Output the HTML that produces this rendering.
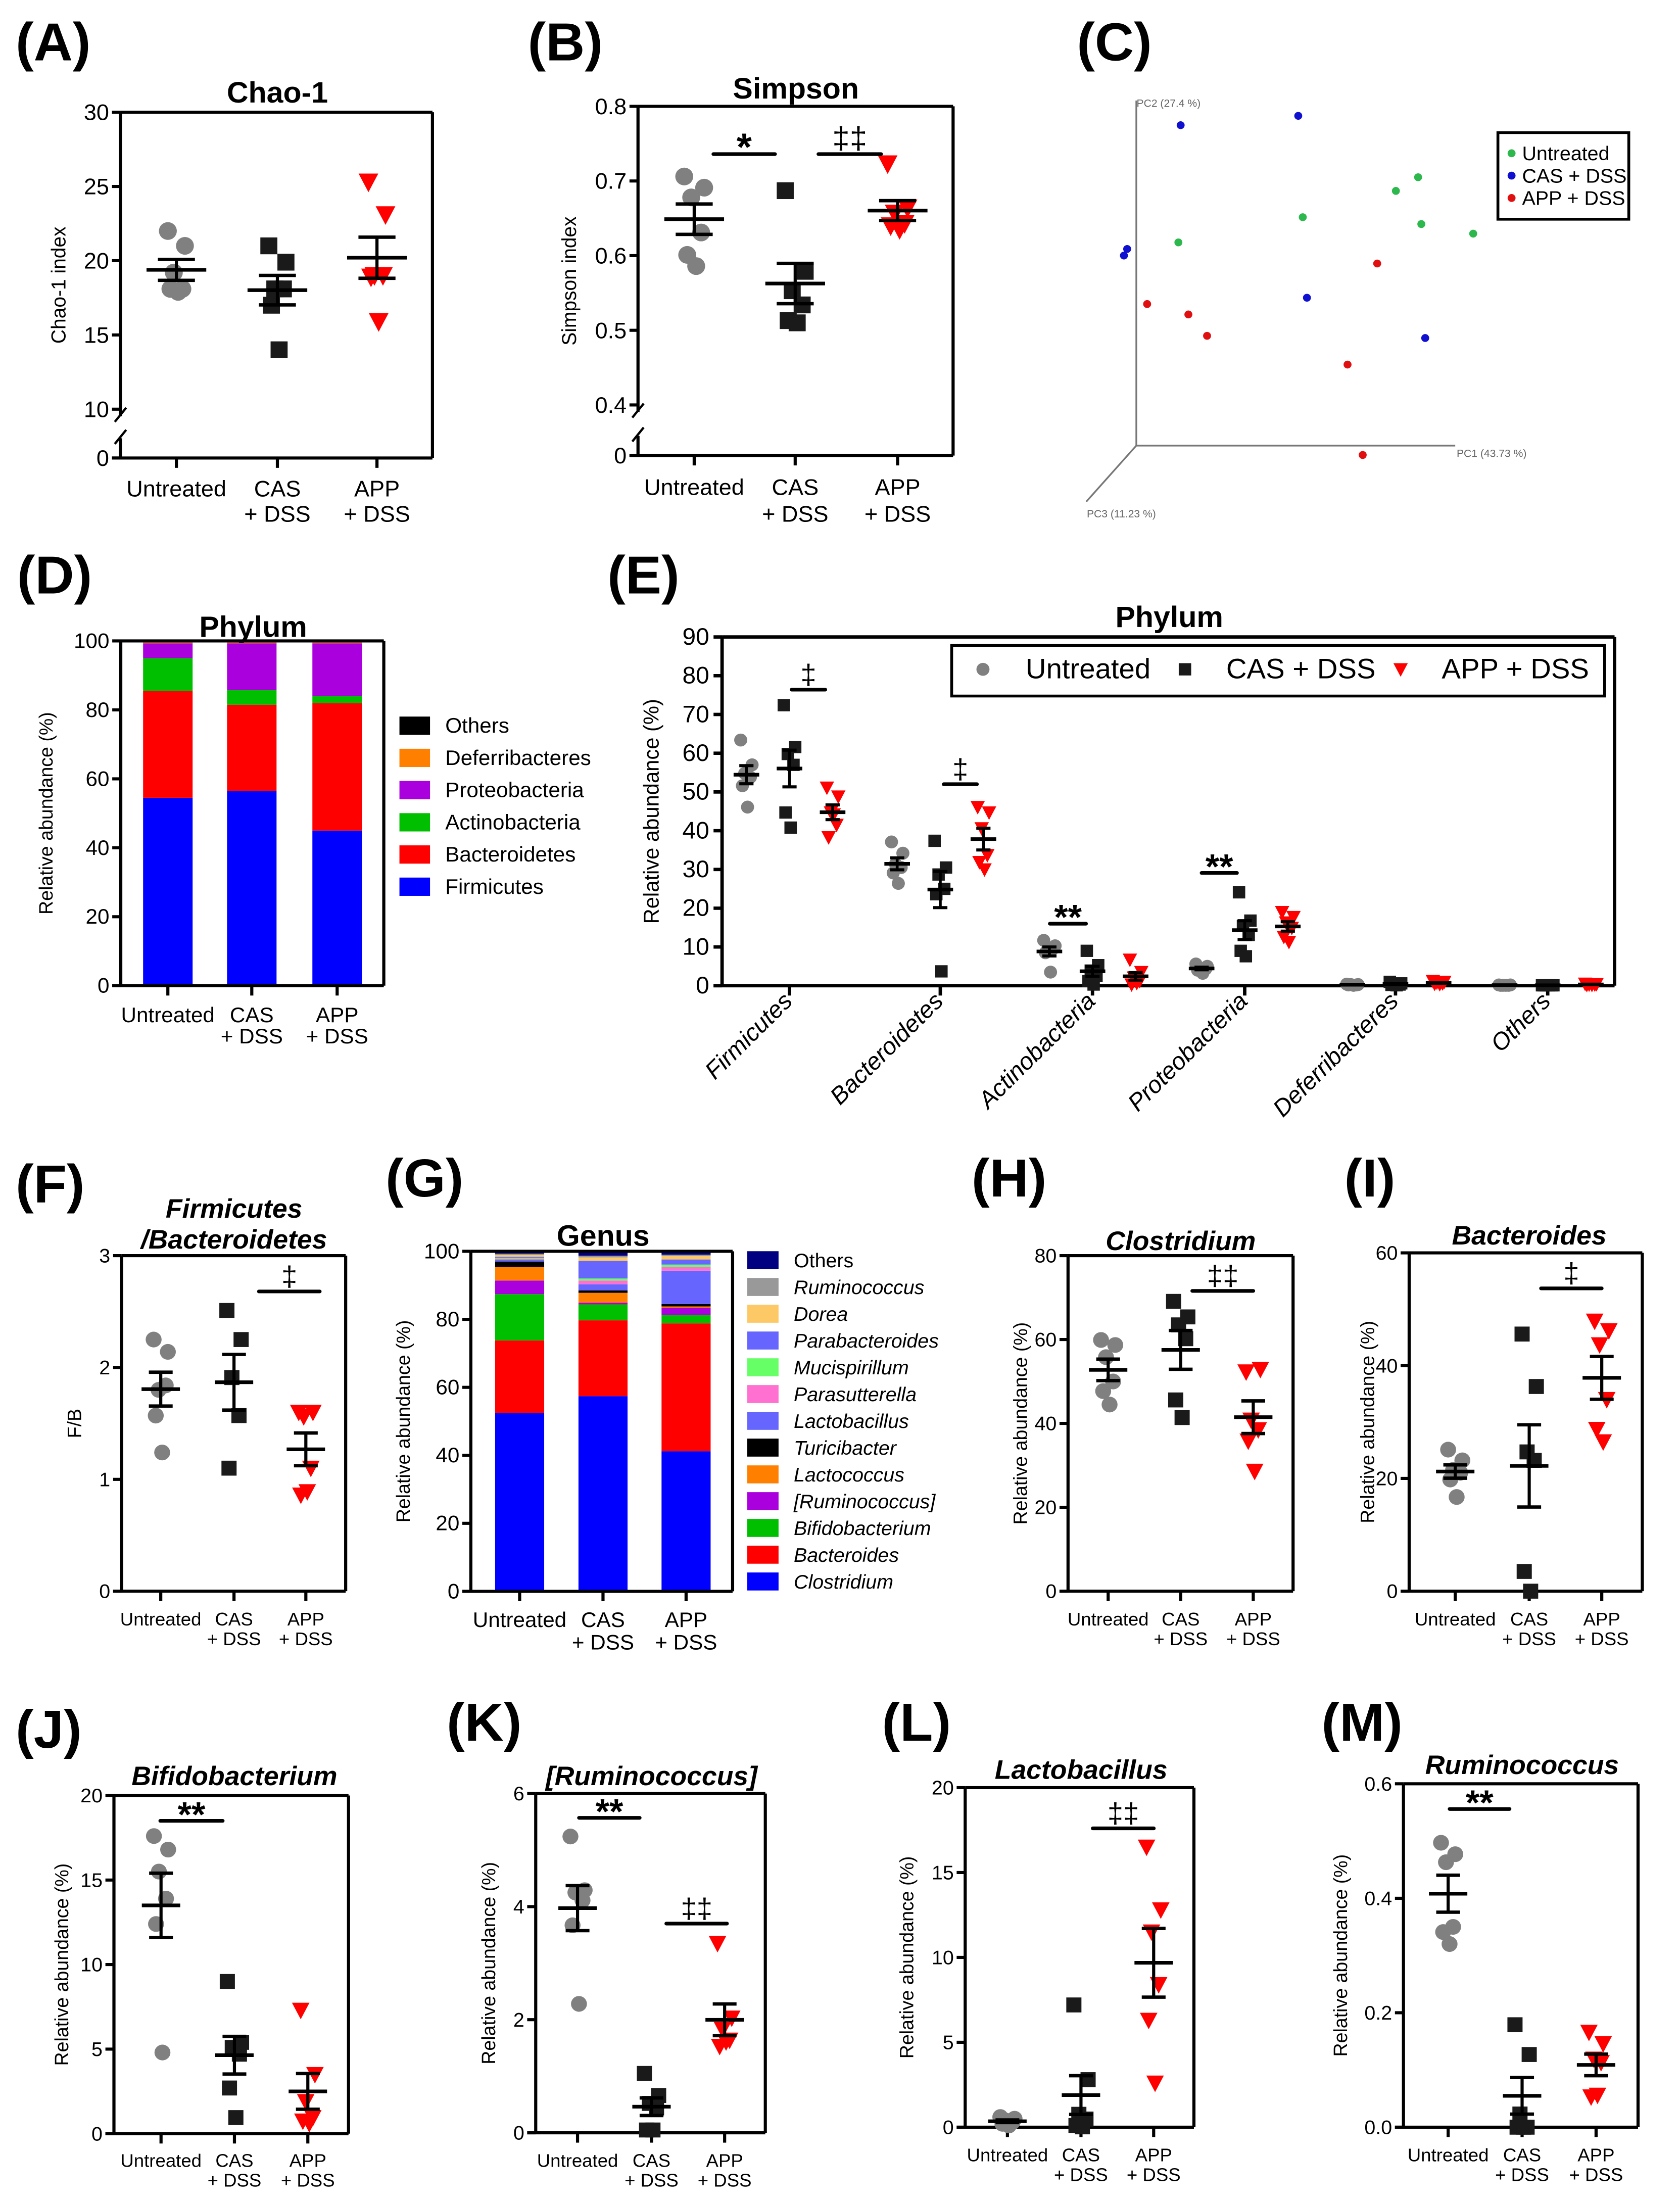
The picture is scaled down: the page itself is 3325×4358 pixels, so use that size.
<!DOCTYPE html>
<html><head><meta charset="utf-8"><style>
html,body{margin:0;padding:0;background:#fff;}
svg{display:block;}
</style></head><body>
<svg id="fig" xmlns="http://www.w3.org/2000/svg" width="3325" height="4358" viewBox="0 0 1181 1566" preserveAspectRatio="none">
<rect x="0" y="0" width="1181" height="1566" fill="#fff"/>
</svg>
<script>
// ===== DATA =====
const groupLabels=['Untreated','CAS\n+ DSS','APP\n+ DSS'];
const chao1Values=[[22,21,19.2,18.1,18.1,17.9],[21,19.9,18.1,18.1,17,14],[25.3,23.1,19,19,18.9,15.9]];
const simpsonValues=[[0.706,0.691,0.678,0.631,0.601,0.586],[0.687,0.579,0.553,0.534,0.513,0.51],[0.723,0.664,0.657,0.643,0.64,0.635]];
const fbValues=[[2.25,2.14,1.80,1.84,1.57,1.24],[2.51,2.25,1.91,1.57,1.10],[1.60,1.60,1.56,1.10,0.86,0.89]];
const clostridiumValues=[[59.9,58.7,55.8,50,47.7,44.5],[69.1,65.4,63.5,60.2,45.6,41.4],[52.3,52.9,40.8,38.5,35.8,28.6]];
const bacteroidesValues=[[25.1,23.2,21.5,21,19.8,16.7],[45.6,36.3,24.7,23.2,3.5,0],[47.9,46.2,43.7,34,28.7,26.5]];
const bifidoValues=[[17.6,16.8,15.5,13.9,12.4,4.8],[9,5.4,5.1,4.7,2.7,0.95],[7.3,3.5,1.9,0.95,0.75,0.6]];
const rumBracketValues=[[5.24,4.29,4.25,4.11,3.67,2.28],[1.05,0.66,0.52,0.44,0.05,0.05],[3.35,2.03,1.83,1.64,1.53,1.61]];
const lactobacillusValues=[[0.6,0.5,0.4,0.3,0.2,0.1],[7.2,2.8,0.76,0.48,0.1,0.02],[16.5,12.8,11.5,8.4,6.3,2.6]];
const ruminococcusValues=[[0.497,0.477,0.463,0.35,0.341,0.32],[0.179,0.127,0.023,0,0,0],[0.166,0.146,0.119,0.113,0.053,0.056]];

const phylumCats=['Firmicutes','Bacteroidetes','Actinobacteria','Proteobacteria','Deferribacteres','Others'];
const phylumUntreated=[[63.4,57,54.8,53.8,51.6,46.1],[37.1,34.2,31.4,30.5,29.1,26.4],[11.7,10.3,9.4,9.6,8.5,3.5],[5.6,5.0,4.6,4.3,4.0,3.2],[0.4,0.3,0.3,0.2,0.2,0.1],[0.2,0.2,0.1,0.1,0.1,0.1]];
const phylumCAS=[[72.4,61.6,59.8,57,44.7,40.8],[37.4,30.5,28.7,25,23.6,3.7],[9.0,5.3,3.9,2.6,1.2,0.3],[24.1,16.8,15.4,13.1,9,7.6],[1.0,0.6,0.4,0.3,0.2,0.1],[0.1,0.1,0.1,0.1,0.1,0.1]];
const phylumAPP=[[51.1,48.8,44.7,41.5,38.3,44.2],[46.1,44.7,40.6,33.7,31.9,30.0],[6.7,3.5,2.1,1.2,0.3,0.7],[19,17.7,16.3,14.9,12.6,11.3],[1.2,1.0,0.8,0.6,0.5,0.4],[0.5,0.4,0.3,0.3,0.2,0.2]];

const phylumStackNames=['Firmicutes','Bacteroidetes','Actinobacteria','Proteobacteria','Deferribacteres','Others'];
const phylumStackColors=['#0000ff','#ff0000','#00bf00','#aa00dd','#ff8000','#000000'];
const phylumStackUntreated=[54.5,31,9.5,4.3,0.7,0];
const phylumStackCAS=[56.5,25,4.2,13.6,0.7,0];
const phylumStackAPP=[45,37,2,15.3,0.7,0];

const genusNames=['Clostridium','Bacteroides','Bifidobacterium','[Ruminococcus]','Lactococcus','Turicibacter','Lactobacillus','Parasutterella','Mucispirillum','Parabacteroides','Dorea','Ruminococcus','Others'];
const genusColors=['#0000ff','#ff0000','#00bf00','#aa00dd','#ff8000','#000000','#6666ff','#ff70d0','#66ff66','#6666ff','#fdc966','#999999','#000080'];
const genusUntreated=[52.5,21.3,13.6,4.0,4.0,1.6,0.5,0.3,0.3,0.3,0.5,0.4,0.7];
const genusCAS=[57.4,22.3,4.7,0.5,2.9,0.7,1.8,1.1,0.6,5.2,1.0,0.5,1.3];
const genusAPP=[41.2,37.6,2.5,2.1,0.4,0.7,9.8,1.1,0.7,1.5,1.0,0.4,1.0];

const pcaUntreatedPC1=[286,672,961,1030,1040,1201];
const pcaUntreatedPC2=[553,461,365,315,486,521];
const pcaCASPC1=[293,658,127,117,685,1052];
const pcaCASPC2=[125,91,577,601,755,902];
const pcaAPPPC1=[189,317,375,903,811,858];
const pcaAPPPC2=[778,816,894,630,999,1329];

// ===== HELPERS =====
const NS='http://www.w3.org/2000/svg';
const svg=document.getElementById('fig');
const FN='"Liberation Sans Narrow","Liberation Sans",sans-serif';
const FR='"Liberation Sans",sans-serif';
const GREY='#808080', BLK='#1a1a1a', RED='#ff0000';
function mk(tag,attrs,parent){const e=document.createElementNS(NS,tag);for(const k in attrs)e.setAttribute(k,attrs[k]);(parent||svg).appendChild(e);return e;}
function txt(s,x,y,size,parent,extra){const a={x:x,y:y,'font-size':size,'font-family':FN,fill:'#000'};if(extra)for(const k in extra)a[k]=extra[k];const t=mk('text',a,parent);t.textContent=s;return t;}
function grp(name){const g=mk('g',{});return g;}
function line(x1,y1,x2,y2,w,parent,col){return mk('line',{x1:x1,y1:y1,x2:x2,y2:y2,stroke:col||'#000','stroke-width':w},parent);}
function marker(type,x,y,s,parent){
  let e;
  if(type===0) e=mk('circle',{cx:x,cy:y,r:s,fill:GREY},parent);
  else if(type===1) e=mk('rect',{x:x-s*0.95,y:y-s*0.95,width:s*1.9,height:s*1.9,fill:BLK},parent);
  else e=mk('polygon',{points:(x-s*1.1)+','+(y-s*0.95)+' '+(x+s*1.1)+','+(y-s*0.95)+' '+x+','+(y+s*1.15),fill:RED},parent);
  return e;
}
function meanSem(a){const n=a.length;const m=a.reduce((p,c)=>p+c,0)/n;const sd=Math.sqrt(a.reduce((p,c)=>p+(c-m)*(c-m),0)/(n-1));return [m,sd/Math.sqrt(n)];}
const JIT=[-1,1,-0.3,0.7,-0.7,0.2];
function letter(s,x,y){const t=txt(s,x,y,38,svg,{'font-weight':'bold','font-family':FR});}
function ylabel(s,x,yc,size,parent){const t=txt(s,x,yc,size,parent,{'text-anchor':'middle','font-family':FR,transform:'rotate(-90 '+x+' '+yc+')'});}
function xlabels(gx,y1,y2,size,parent){
  gx.forEach((x,i)=>{const parts=groupLabels[i].split('\n');
    parts.forEach((p,j)=>{const t=txt(p,x,j===0?y1:y2,size,parent,{'text-anchor':'middle'});});});
}
function sigBar(x1,x2,y,sym,parent,size){
  const l=line(x1,y,x2,y,2.6,parent);l.setAttribute('stroke-linecap','round');
  
  
  const star=sym.indexOf('*')>=0;
  const t=txt(sym,(x1+x2)/2,star?y+size*0.2:y-4,star?size*1.25:size,parent,{'text-anchor':'middle','font-family':FR,'font-weight':star?'bold':'normal'});
  
  
}

// ===== SCATTER PANEL =====
function scatterPanel(c){
  const g=grp(c.name);
  const Y=v=>{ if(c.brk){ if(v<=0) return c.bot; return c.brkPix-(v-c.ymin)/(c.ymax-c.ymin)*(c.brkPix-c.top);} return c.bot-(v-c.ymin)/(c.ymax-c.ymin)*(c.bot-c.top);};
  const X=(i)=>c.gx[0]+i*(c.gx[1]-c.gx[0]);
  const sw=2.2;
  if(c.brk){
    line(c.ax,c.top,c.ax,c.brkPix+5,sw,g);
    line(c.ax,c.bot-14,c.ax,c.bot,sw,g);
    line(c.ax-4,c.brkPix+9,c.ax+4,c.brkPix-1,1.6,g);
    line(c.ax-4,c.bot-10,c.ax+4,c.bot-20,1.6,g);
  } else line(c.ax,c.top,c.ax,c.bot,sw,g);
  line(c.ax,c.top,c.right,c.top,sw,g);
  line(c.right,c.top,c.right,c.bot,sw,g);
  const xa=line(c.ax-6,c.bot,c.right,c.bot,sw,g);
  
  
  c.ticks.forEach((t,i)=>{const y=Y(t);line(c.ax-6,y,c.ax,y,sw,g);
    const tl=txt(c.tickLabels[i],c.ax-8,y+c.fs*0.35,c.fs,g,{'text-anchor':'end'});
    
    });
  c.gx.forEach(x=>line(x,c.bot,x,c.bot+7,sw,g));
  xlabels(c.gx,c.xl1,c.xl2,c.xfs,g);
  c.data.forEach((arr,i)=>{
    arr.forEach((v,j)=>{const m=marker(i,c.gx[i]+JIT[j]*c.js,Y(v),c.ms,g);
      
      });
  });
  c.data.forEach((arr,i)=>{
    const [m,se]=meanSem(arr);const x=c.gx[i];
    const ml=line(x-c.mw,Y(m),x+c.mw,Y(m),2.6,g);
    
    
    line(x,Y(m+se),x,Y(m-se),2.2,g);
    line(x-c.mw*0.62,Y(m+se),x+c.mw*0.62,Y(m+se),2.4,g);
    line(x-c.mw*0.62,Y(m-se),x+c.mw*0.62,Y(m-se),2.4,g);
  });
  (c.sig||[]).forEach(s=>sigBar(X(s[0]),X(s[1]),Y(s[2]),s[3],g,c.sigfs||20));
  const tt=txt(c.title,c.tx,c.ty,c.tfs,g,{'text-anchor':'middle','font-weight':'bold','font-style':c.italic?'italic':'normal','font-family':FR});
  
  
  if(c.title2){const t2=txt(c.title2,c.tx,c.ty2,c.tfs,g,{'text-anchor':'middle','font-weight':'bold','font-style':'italic','font-family':FR});}
  ylabel(c.ylab,c.ylx,(c.top+c.bot)/2,c.yfs,g);
}

// ===== PANELS A/B =====
letter('(A)',11,43);letter('(B)',371,43);letter('(C)',757,43);
scatterPanel({name:'chao1-panel',ax:84.7,right:304,top:79.8,bot:325.7,brk:true,brkPix:291,ymin:10,ymax:30,
  ticks:[0,10,15,20,25,30],tickLabels:['0','10','15','20','25','30'],gx:[124,195,265],data:chao1Values,
  ms:6.3,js:6,mw:21,fs:16,xfs:16,xl1:353,xl2:371,title:'Chao-1',tx:195,ty:73,tfs:21,ylab:'Chao-1 index',ylx:46,yfs:14});
scatterPanel({name:'simpson-panel',ax:448.5,right:670,top:75.6,bot:324,brk:true,brkPix:288,ymin:0.4,ymax:0.8,
  ticks:[0,0.4,0.5,0.6,0.7,0.8],tickLabels:['0','0.4','0.5','0.6','0.7','0.8'],gx:[488,559,631],data:simpsonValues,
  ms:6.3,js:7,mw:21,fs:16,xfs:16,xl1:352,xl2:371,title:'Simpson',tx:559.5,ty:70,tfs:21,ylab:'Simpson index',ylx:405,yfs:14,
  sig:[[0.19,0.8,0.736,'*'],[1.23,1.85,0.736,'‡‡']],sigfs:22});

// ===== PANEL C (PCA) =====
(function(){
  const g=grp('pca-plot');
  const PX=v=>763.6+0.2265*v, PY=v=>64.67+0.1948*v;
  line(798.8,71.5,798.8,316.9,1.2,g,'#777');
  line(798.8,316.9,1023,316.9,1.2,g,'#777');
  line(798.8,316.9,763.6,356.8,1.2,g,'#777');
  const l1=txt('PC2 (27.4 %)',799,76,7.5,g,{fill:'#666','font-family':FR});
  const l2=txt('PC1 (43.73 %)',1024,325,7.5,g,{fill:'#666','font-family':FR});
  const l3=txt('PC3 (11.23 %)',764,368,7.5,g,{fill:'#666','font-family':FR});
  const sets=[[pcaUntreatedPC1,pcaUntreatedPC2,'#2db84d'],[pcaCASPC1,pcaCASPC2,'#1010d0'],[pcaAPPPC1,pcaAPPPC2,'#e01010']];
  sets.forEach((s,k)=>s[0].forEach((v,i)=>{const d=mk('circle',{cx:PX(v),cy:PY(s[1][i]),r:2.8,fill:s[2]},g);
    
    }));
  const lg=grp('pca-legend');
  mk('rect',{x:1053,y:94.3,width:92,height:61.6,fill:'#fff',stroke:'#000','stroke-width':2},lg);
  ['Untreated','CAS + DSS','APP + DSS'].forEach((n,i)=>{const y=109+i*15.9;
    mk('circle',{cx:1062.6,cy:y,r:2.8,fill:sets[i][2]},lg);
    const t=txt(n,1070,y+5,14,lg);});
})();

// ===== STACKED BAR PANELS =====
function stackPanel(c){
  const g=grp(c.name);
  const Y=v=>c.bot-v/100*(c.bot-c.top);
  const sw=2.2;
  c.series.forEach((vals,i)=>{let acc=0;vals.forEach((v,k)=>{const y0=Y(acc),y1=Y(acc+v);acc+=v;
    if(v<=0)return;
    const r=mk('rect',{x:c.bx[i]-c.bw/2,y:y1,width:c.bw,height:y0-y1,fill:c.colors[k]},g);
    
    });});
  line(c.ax,c.top,c.ax,c.bot,sw,g);line(c.ax,c.top,c.right,c.top,sw,g);line(c.right,c.top,c.right,c.bot,sw,g);
  line(c.ax-6,c.bot,c.right,c.bot,sw,g);
  [0,20,40,60,80,100].forEach(t=>{const y=Y(t);line(c.ax-6,y,c.ax,y,sw,g);
    const tl=txt(String(t),c.ax-8,y+5,15,g,{'text-anchor':'end'});});
  c.bx.forEach(x=>line(x,c.bot,x,c.bot+7,sw,g));
  xlabels(c.bx,c.xl1,c.xl2,15,g);
  const tt=txt(c.title,c.tx,c.ty,21,g,{'text-anchor':'middle','font-weight':'bold','font-family':FR});
  ylabel('Relative abundance (%)',c.ylx,(c.top+c.bot)/2,13.5,g);
  const lg=grp(c.name+'-legend');
  c.names.forEach((n,k)=>{const y=c.ly0-k*c.lstep;
    mk('rect',{x:c.lx,y:y-c.lh/2,width:c.lw,height:c.lh,fill:c.colors[k]},lg);
    const t=txt(n,c.ltx,y+5,c.lfs,lg,{'font-style':c.italic&&n!=='Others'?'italic':'normal'});
    
    });
}
letter('(D)',12,422);letter('(E)',427,422);
stackPanel({name:'phylum-stacked-bars',ax:84.9,right:269.8,top:455.8,bot:701,bx:[118,177,237],bw:34.8,
  series:[phylumStackUntreated,phylumStackCAS,phylumStackAPP],colors:phylumStackColors,names:phylumStackNames,
  xl1:727,xl2:742,title:'Phylum',tx:178,ty:453,ylx:37,lx:280.8,lw:21.5,lh:13,ly0:630.6,lstep:22.9,ltx:313,lfs:15});
letter('(F)',11,855);letter('(G)',271,851);letter('(H)',683,851);letter('(I)',945,851);
stackPanel({name:'genus-stacked-bars',ax:331,right:515,top:889.9,bot:1131.7,bx:[365.3,423.9,482.3],bw:34.5,
  series:[genusUntreated,genusCAS,genusAPP],colors:genusColors,names:genusNames,italic:true,
  xl1:1157,xl2:1173,title:'Genus',tx:424,ty:886,ylx:288,lx:525.3,lw:22,lh:12.8,ly0:1124.7,lstep:19.04,ltx:558,lfs:14});

// ===== PANEL E =====
(function(){
  const g=grp('phylum-scatter-panel');
  const ax=507.6,right=1135,top=453,bot=701;
  const Y=v=>bot-v/90*(bot-top);
  const catX=[555,661,768,875,981,1088];
  const gOff=30.3;
  const sw=2.4;
  line(ax,top,ax,bot,sw,g);line(ax,top,right,top,sw,g);line(right,top,right,bot,sw,g);line(ax-6,bot,right,bot,sw,g);
  for(let t=0;t<=90;t+=10){const y=Y(t);line(ax-6,y,ax,y,sw,g);
    const tl=txt(String(t),ax-9,y+5.5,17,g,{'text-anchor':'end'});}
  catX.forEach((x,i)=>{line(x,bot,x,bot+7,sw,g);
    const t=txt(phylumCats[i],x+3,bot+12,17,g,{'text-anchor':'end','font-style':'italic','font-family':FR,transform:'rotate(-45 '+(x+3)+' '+(bot+12)+')'});
    
    });
  const all=[phylumUntreated,phylumCAS,phylumAPP];
  all.forEach((grpData,gi)=>grpData.forEach((arr,ci)=>{const cx=catX[ci]+(gi-1)*gOff;
    arr.forEach((v,j)=>{const m=marker(gi,cx+JIT[j]*4,Y(v),4.6,g);
      
      });}));
  all.forEach((grpData,gi)=>grpData.forEach((arr,ci)=>{const cx=catX[ci]+(gi-1)*gOff;const [m,se]=meanSem(arr);
    const ml=line(cx-9,Y(m),cx+9,Y(m),2.6,g);
    
    
    line(cx,Y(m+se),cx,Y(m-se),2,g);line(cx-5,Y(m+se),cx+5,Y(m+se),2.2,g);line(cx-5,Y(m-se),cx+5,Y(m-se),2.2,g);}));
  const sigs=[[0,1.05,1.83,76.4,'‡'],[1,1.08,1.85,52,'‡'],[2,0.01,0.85,16,'**'],[3,0,0.82,29.1,'**']];
  sigs.forEach(s=>{const b=catX[s[0]]-gOff;sigBar(b+s[1]*gOff,b+s[2]*gOff,Y(s[3]),s[4],g,20);});
  const tt=txt('Phylum',822,446,21,g,{'text-anchor':'middle','font-weight':'bold','font-family':FR});
  ylabel('Relative abundance (%)',463,(top+bot)/2,15,g);
  const lg=grp('phylum-scatter-legend');
  mk('rect',{x:669,y:459,width:459,height:36,fill:'#fff',stroke:'#000','stroke-width':2},lg);
  const lx=[[691,721],[833,862],[984.6,1013.5]];
  ['Untreated','CAS + DSS','APP + DSS'].forEach((n,i)=>{marker(i,lx[i][0],476,4.6,lg);
    const t=txt(n,lx[i][1],482.5,20,lg);});
})();

// ===== SMALL PANELS F-M =====
const SM={ms:5.6,js:5,mw:13.5,fs:14,xfs:13};
function small(o){scatterPanel(Object.assign({},SM,o));}
small({name:'fb-ratio-panel',ax:85.5,right:243,top:893,bot:1131.6,ymin:0,ymax:3,ticks:[0,1,2,3],tickLabels:['0','1','2','3'],
  gx:[113,164.5,215],data:fbValues,xl1:1156,xl2:1170,title:'Firmicutes',title2:'/Bacteroidetes',italic:true,tx:164.5,ty:866,ty2:888,tfs:19,
  ylab:'F/B',ylx:57,yfs:13.5,sig:[[1.34,2.17,2.68,'‡']]});
small({name:'clostridium-panel',ax:750.8,right:909,top:893,bot:1131.6,ymin:0,ymax:80,ticks:[0,20,40,60,80],tickLabels:['0','20','40','60','80'],
  gx:[779,830,881],data:clostridiumValues,xl1:1156,xl2:1170,title:'Clostridium',italic:true,tx:830,ty:889,tfs:19,
  ylab:'Relative abundance (%)',ylx:722,yfs:13.5,sig:[[1.16,2.0,71.6,'‡‡']]});
small({name:'bacteroides-panel',ax:990.6,right:1154.5,top:891,bot:1131.6,ymin:0,ymax:60,ticks:[0,20,40,60],tickLabels:['0','20','40','60'],
  gx:[1023,1075,1126],data:bacteroidesValues,xl1:1156,xl2:1170,title:'Bacteroides',italic:true,tx:1075,ty:885,tfs:19,
  ylab:'Relative abundance (%)',ylx:966,yfs:13.5,sig:[[1.16,1.98,53.7,'‡']]});
letter('(J)',11,1243);letter('(K)',314,1238);letter('(L)',620,1238);letter('(M)',929,1238);
small({name:'bifidobacterium-panel',ax:80.1,right:245,top:1276.9,bot:1517.4,ymin:0,ymax:20,ticks:[0,5,10,15,20],tickLabels:['0','5','10','15','20'],
  gx:[113.2,164.8,216.4],data:bifidoValues,xl1:1541,xl2:1555,title:'Bifidobacterium',italic:true,tx:164.8,ty:1269.5,tfs:19,
  ylab:'Relative abundance (%)',ylx:48,yfs:13.5,sig:[[-0.01,0.84,18.5,'**']]});
small({name:'ruminococcus-bracket-panel',ax:376.6,right:538,top:1275.5,bot:1516.8,ymin:0,ymax:6,ticks:[0,2,4,6],tickLabels:['0','2','4','6'],
  gx:[406,458,509.4],data:rumBracketValues,xl1:1541,xl2:1555,title:'[Ruminococcus]',italic:true,tx:458,ty:1269.5,tfs:19,
  ylab:'Relative abundance (%)',ylx:348,yfs:13.5,sig:[[0.02,0.84,5.57,'**'],[1.2,2.02,3.7,'‡‡']]});
small({name:'lactobacillus-panel',ax:678.5,right:839.3,top:1271.3,bot:1512.8,ymin:0,ymax:20,ticks:[0,5,10,15,20],tickLabels:['0','5','10','15','20'],
  gx:[708.2,759.9,811],data:lactobacillusValues,xl1:1537,xl2:1551,title:'Lactobacillus',italic:true,tx:760,ty:1265,tfs:19,
  ylab:'Relative abundance (%)',ylx:642,yfs:13.5,sig:[[1.16,1.99,17.6,'‡‡']]});
small({name:'ruminococcus-panel',ax:986.6,right:1151.5,top:1268.6,bot:1512.8,ymin:0,ymax:0.6,ticks:[0,0.2,0.4,0.6],tickLabels:['0.0','0.2','0.4','0.6'],
  gx:[1018,1070,1122],data:ruminococcusValues,xl1:1537,xl2:1551,title:'Ruminococcus',italic:true,tx:1070,ty:1261.7,tfs:19,
  ylab:'Relative abundance (%)',ylx:947,yfs:13.5,sig:[[0.02,0.83,0.556,'**']]});
</script>
</body></html>
